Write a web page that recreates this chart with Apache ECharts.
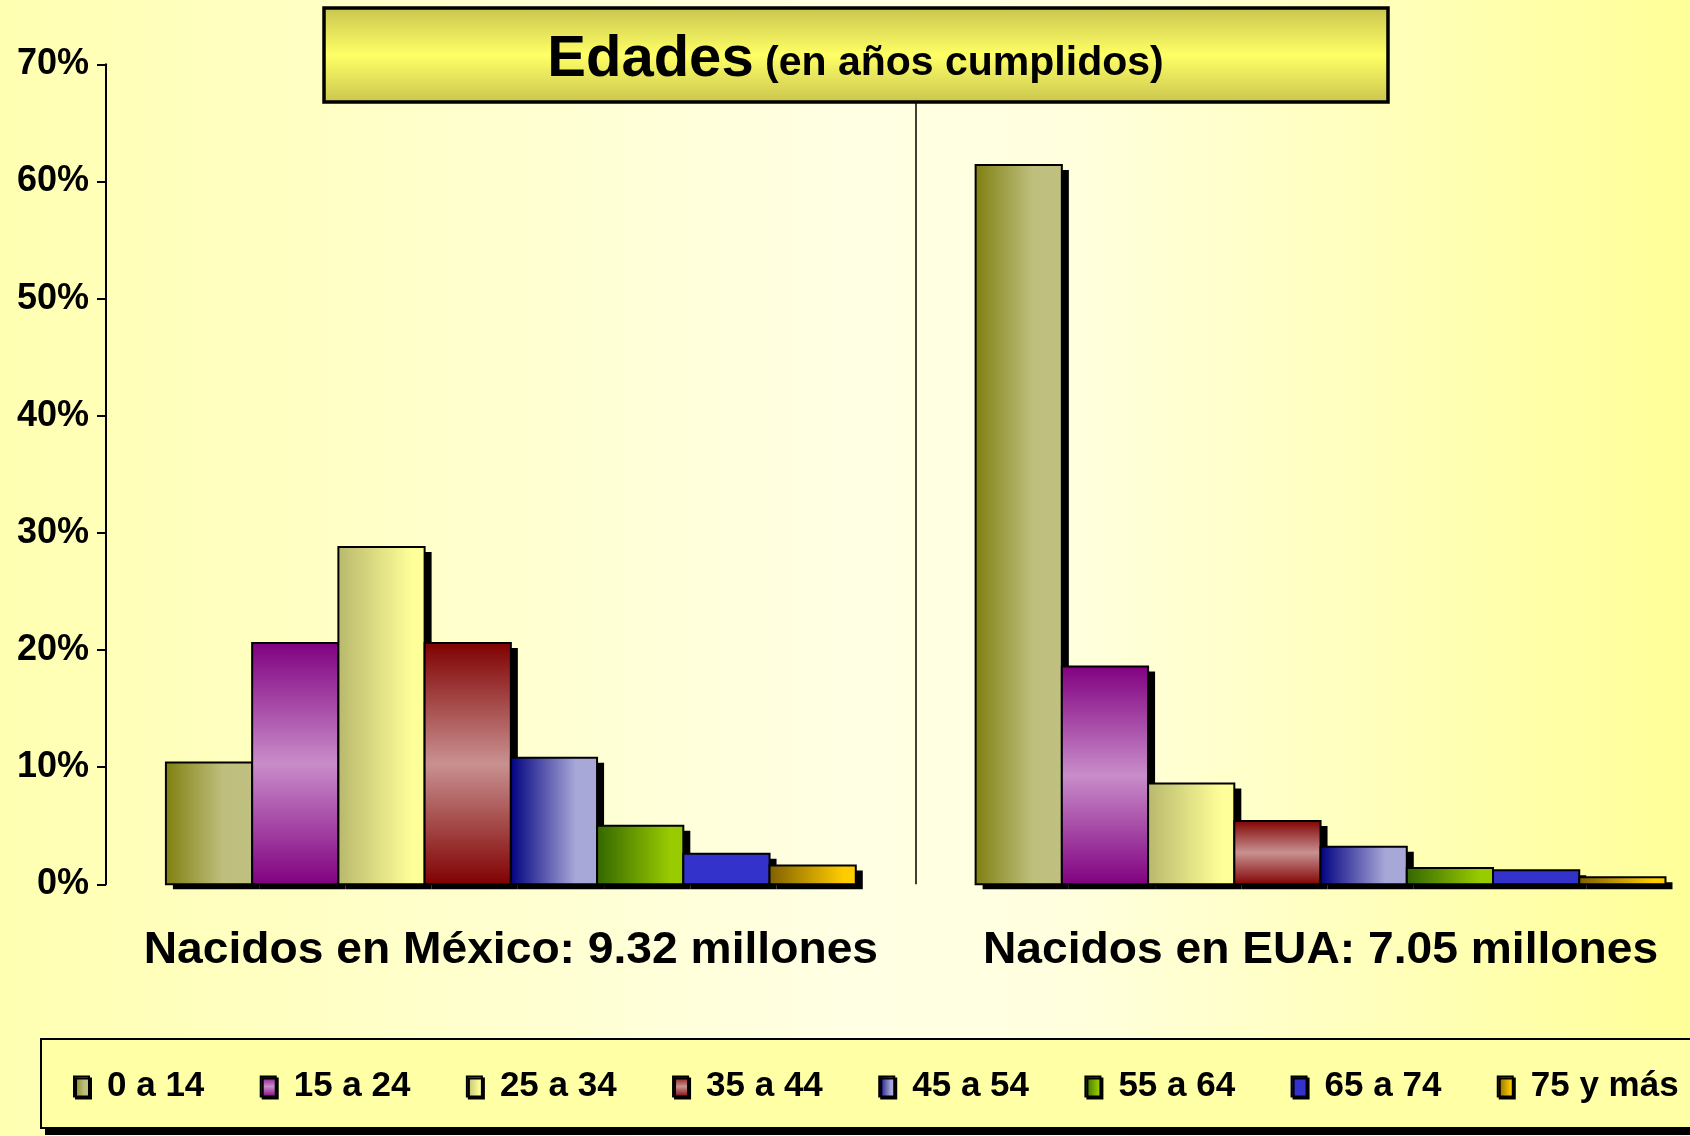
<!DOCTYPE html>
<html>
<head>
<meta charset="utf-8">
<title>Edades</title>
<script src="https://cdn.jsdelivr.net/npm/echarts@6/dist/echarts.min.js"></script>
<style>
html, body { margin: 0; padding: 0; }
#chart { width: 1690px; height: 1136px; }
</style>
</head>
<body>
<div id="chart"></div>
<script>
// datos
var categories = ['Nacidos en México: 9.32 millones', 'Nacidos en EUA: 7.05 millones'];
var ageGroups = ['0 a 14', '15 a 24', '25 a 34', '35 a 44', '45 a 54', '55 a 64', '65 a 74', '75 y más'];
var mexico = [10.4, 20.6, 28.8, 20.6, 10.8, 5.0, 2.6, 1.6];
var eua = [61.4, 18.6, 8.6, 5.4, 3.2, 1.4, 1.2, 0.6];
var yMax = 70, yStep = 10;

var FONT = '"Liberation Sans", Arial, sans-serif';
var CAT_GAP = 0.148;   // hueco entre grupos, fraccion de la banda

function grad(vertical, stops) {
    return {
        type: 'linear', x: 0, y: 0, x2: vertical ? 0 : 1, y2: vertical ? 1 : 0,
        colorStops: stops.map(function (s) { return { offset: s[0], color: s[1] }; })
    };
}

var fills = [
    grad(false, [[0, '#7f7f10'], [0.65, '#bebe7d'], [1, '#c0c080']]),
    grad(true, [[0, '#800080'], [0.5, '#c98dca'], [1, '#800080']]),
    grad(false, [[0, '#b8b86c'], [0.85, '#ffff99'], [1, '#ffff99']]),
    grad(true, [[0, '#800000'], [0.5, '#c99191'], [1, '#800000']]),
    grad(false, [[0, '#000080'], [0.75, '#a8a8d8'], [1, '#a8a8d8']]),
    grad(false, [[0, '#336600'], [0.85, '#99cc00'], [1, '#99cc00']]),
    '#3333cc',
    grad(false, [[0, '#7f5f00'], [0.85, '#ffcc00'], [1, '#ffcc00']])
];

var chart = echarts.init(document.getElementById('chart'));

// barra con sombra negra desplazada, sin que la sombra ensucie el borde
function renderBar(params, api) {
    var i = params.seriesIndex;
    var cat = api.value(0), val = api.value(1);
    var base = api.coord([cat, 0]);
    var top = api.coord([cat, val]);
    var band = api.size([1, 0])[0];
    var groupW = band * (1 - CAT_GAP);
    var w = groupW / ageGroups.length;
    var x = base[0] - groupW / 2 + i * w;
    var h = base[1] - top[1];
    return {
        type: 'group',
        children: [
            { type: 'rect', shape: { x: x + 7, y: top[1] + 5, width: w, height: h }, style: { fill: '#000' } },
            { type: 'rect', shape: { x: x, y: top[1], width: w, height: h },
              style: { fill: fills[i], stroke: '#000', lineWidth: 2 } }
        ]
    };
}

var series = ageGroups.map(function (name, i) {
    return {
        name: name,
        type: 'custom',
        renderItem: renderBar,
        encode: { x: 0, y: 1 },
        data: [[0, mexico[i]], [1, eua[i]]],
        itemStyle: { color: fills[i] },
        emphasis: { disabled: true },
        silent: true
    };
});

var staticGraphics = [
    {
        type: 'rect', id: 'bg', z: -100, silent: true,
        shape: { x: 0, y: 0, width: 1690, height: 1136 },
        style: { fill: grad(false, [[0, '#ffffb2'], [0.5, '#ffffe4'], [0.62, '#ffffe0'], [1, '#ffff99']]) }
    },
    {
        type: 'rect', id: 'legendShadow', z: 1, silent: true,
        shape: { x: 45, y: 1046, width: 1700, height: 89 },
        style: { fill: '#000' }
    },
    {
        type: 'rect', id: 'legendBox', z: 2, silent: true,
        shape: { x: 41, y: 1039, width: 1700, height: 89 },
        style: { fill: '#ffffa6', stroke: '#000', lineWidth: 2 }
    },
    {
        type: 'rect', id: 'titleBox', z: 100, silent: true,
        shape: { x: 324, y: 8, width: 1064, height: 94 },
        style: {
            fill: grad(true, [[0, '#c8c44e'], [0.5, '#ffff66'], [1, '#c8c44e']]),
            stroke: '#000', lineWidth: 3.5
        }
    },
    {
        type: 'text', id: 'titleText', z: 101, silent: true,
        x: 855.5, y: 60,
        style: {
            text: '{a|Edades}{b| (en años cumplidos)}',
            align: 'center', verticalAlign: 'middle',
            rich: {
                a: { fontSize: 58, fontWeight: 'bold', fontFamily: FONT, fill: '#000' },
                b: { fontSize: 41, fontWeight: 'bold', fontFamily: FONT, fill: '#000', padding: [7, 0, 0, 0] }
            }
        }
    }
];

var option = {
    animation: false,
    grid: {
        left: 106,
        top: 64.3,
        width: 1619.4,
        height: 820,
        containLabel: false,
        outerBoundsMode: 'none'
    },
    xAxis: {
        type: 'category',
        data: categories,
        axisLine: { show: false },
        axisTick: { show: false },
        axisLabel: { show: false },
        splitLine: { show: true, lineStyle: { color: '#000', width: 1.5 } }
    },
    yAxis: {
        type: 'value',
        min: 0,
        max: yMax,
        interval: yStep,
        axisLine: { show: true, lineStyle: { color: '#000', width: 2 } },
        axisTick: { show: true, length: 9, lineStyle: { color: '#000', width: 2 } },
        splitLine: { show: false },
        axisLabel: {
            formatter: '{value}%',
            color: '#000',
            fontFamily: FONT,
            fontWeight: 'bold',
            fontSize: 36,
            margin: 17
        }
    },
    legend: {
        data: ageGroups,
        orient: 'horizontal',
        left: 73,
        top: 1069,
        padding: 0,
        z: 5,
        itemGap: 55.4,
        itemWidth: 15,
        itemHeight: 20,
        icon: 'rect',
        selectedMode: false,
        itemStyle: {
            borderColor: '#000', borderWidth: 2,
            shadowColor: '#000', shadowBlur: 0, shadowOffsetX: 2, shadowOffsetY: 2
        },
        textStyle: {
            fontFamily: FONT, fontWeight: 'bold', fontSize: 35, color: '#000',
            lineHeight: 22, padding: [0, 0, 0, 13]
        }
    },
    graphic: staticGraphics,
    series: series
};

chart.setOption(option);

// etiquetas de categoría, algo ensanchadas como en el original
var labels = categories.map(function (c, i) {
    var p = chart.convertToPixel({ gridIndex: 0 }, [c, 0]);
    return {
        type: 'text', id: 'xl' + i, z: 10, silent: true,
        x: p[0], y: p[1] + 67, scaleX: 1.05,
        style: {
            text: c, fontSize: 44, fontWeight: 'bold', fontFamily: FONT, fill: '#000',
            align: 'center', verticalAlign: 'middle'
        }
    };
});
chart.setOption({ graphic: staticGraphics.concat(labels) });
</script>
</body>
</html>
